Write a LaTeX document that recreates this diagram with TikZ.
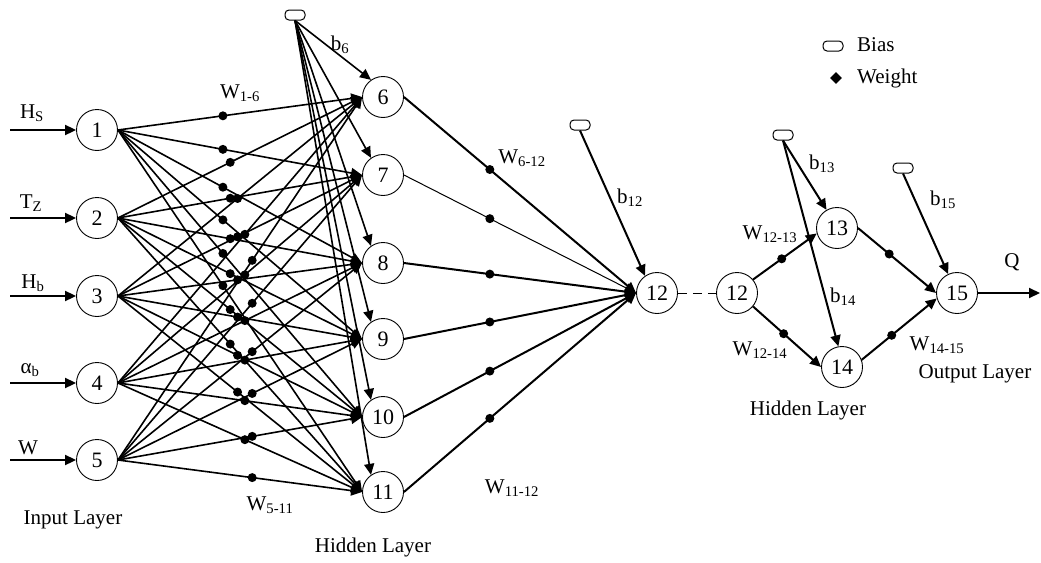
\documentclass[tikz,border=0pt]{standalone}
\usepackage{fontspec}
\setmainfont{Liberation Serif}
\usetikzlibrary{arrows.meta,shapes.geometric}
\newcommand{\lsub}[1]{\textsubscript{#1}}
\begin{document}
\begin{tikzpicture}[x=1pt,y=-1pt,
  neuron/.style={circle,draw,line width=0.9pt,minimum size=41pt,inner sep=0pt,font=\fontsize{22}{22}\selectfont},
  biasnode/.style={draw,rounded corners=4pt,minimum width=20pt,minimum height=10pt,inner sep=0pt,line width=1pt},
  wdot/.style={circle,fill=black,inner sep=0pt,minimum size=9pt},
  arr/.style={-{Triangle[length=11pt,width=10pt]}},
  thickw/.style={line width=2pt},
  midw/.style={line width=1.6pt},
  thinw/.style={line width=1pt},
  lab/.style={font=\fontsize{21}{21}\selectfont,inner sep=0pt}
]
\useasboundingbox (0,0) rectangle (1041,562);

% input layer
\foreach \i/\y in {1/130,2/218,3/296,4/383,5/460}{
  \node[neuron] (i\i) at (97,\y) {\i};
  \coordinate (src\i) at (10,\y);
  \draw[arr,thickw] (src\i) -- (i\i.west);
}
% first hidden layer
\foreach \j/\y in {6/97,7/175,8/263,9/339,10/417,11/492}{
  \node[neuron] (h\j) at (383,\y) {\j};
}
% output side
\node[neuron] (n12) at (657,293) {12};
\node[neuron] (m12) at (737,293) {12};
\node[neuron] (n13) at (837,228) {13};
\node[neuron] (n14) at (842,367) {14};
\node[neuron] (n15) at (957,293) {15};
\coordinate (qend) at (1040,293);

% bias units
\node[biasnode] (bA) at (295,15) {};
\node[biasnode] (bB) at (580,125) {};
\node[biasnode] (bC) at (783,135) {};
\node[biasnode] (bD) at (903,168) {};

% input -> hidden weights
\foreach \i in {1,...,5}{
  \pgfmathsetmacro\pp{0.40+0.03*\i}
  \foreach \j in {6,...,11}{
    \draw[arr,midw] (i\i.east) -- (h\j.west) node[wdot,pos=\pp] (w\i\j) {};
  }
}
% bias -> hidden
\foreach \j in {6,...,11}{
  \draw[arr,midw] (bA.south) -- (h\j.125);
}
% hidden -> 12
\foreach \j/\w in {6/thickw,7/thinw,8/thickw,9/thickw,10/thickw,11/thickw}{
  \draw[arr,\w] (h\j.east) -- (n12.west) node[wdot,pos=0.37] (v\j) {};
}
\draw[arr,thickw] (bB.south) -- (n12.125);
\draw[thinw,dash pattern=on 9pt off 6pt] (n12.east) -- (m12.west);

% second part
\draw[arr,thickw] (m12.40) -- (n13.195) node[wdot,pos=0.45] (v13) {};
\draw[arr,thickw] (m12.-40) -- (n14.west) node[wdot,pos=0.45] (v14) {};
\draw[arr,thickw] (n13.east) -- (n15.west) node[wdot,pos=0.4] (v1315) {};
\draw[arr,thickw] (n14.20) -- (n15.195) node[wdot,pos=0.4] (v1415) {};
\draw[arr,thickw] (bC.south) -- (n13.120);
\draw[arr,thickw] (bC.south) -- (n14.100);
\draw[arr,thickw] (bD.south) -- (n15.115);
\draw[arr,thickw] (n15.east) -- (qend);

% labels
\node[lab] (lHs) at (32,113) {H\lsub{S}};
\node[lab] (lTz) at (31,203) {T\lsub{Z}};
\node[lab] (lHb) at (33,283) {H\lsub{b}};
\node[lab] (lab4) at (30,370) {α\lsub{b}};
\node[lab] (lW) at (28,448) {W};
\node[lab] (l16) at (240,93) {W\lsub{1-6}};
\node[lab] (lb6) at (340,45) {b\lsub{6}};
\node[lab] (l612) at (522,158) {W\lsub{6-12}};
\node[lab] (lb12) at (630,198) {b\lsub{12}};
\node[lab] (l511) at (270,505) {W\lsub{5-11}};
\node[lab] (l1112) at (512,488) {W\lsub{11-12}};
\node[lab] (l1213) at (770,234) {W\lsub{12-13}};
\node[lab] (l1214) at (760,350) {W\lsub{12-14}};
\node[lab] (lb13) at (822,164) {b\lsub{13}};
\node[lab] (lb14) at (843,297) {b\lsub{14}};
\node[lab] (lb15) at (943,200) {b\lsub{15}};
\node[lab] (l1415) at (937,345) {W\lsub{14-15}};
\node[lab] (lQ) at (1012,262) {Q};
\node[lab] (lout) at (975,374) {Output Layer};
\node[lab] (lhid2) at (808,410) {Hidden Layer};
\node[lab] (lhid1) at (373,547) {Hidden Layer};
\node[lab] (lin) at (73,520) {Input Layer};

% legend
\node[biasnode] (legb) at (833,46) {};
\node[lab,anchor=west] (legbt) at (857,45) {Bias};
\node[diamond,fill=black,inner sep=0pt,minimum size=12pt] (legw) at (836,78) {};
\node[lab,anchor=west] (legwt) at (857,78) {Weight};
\end{tikzpicture}
\end{document}
